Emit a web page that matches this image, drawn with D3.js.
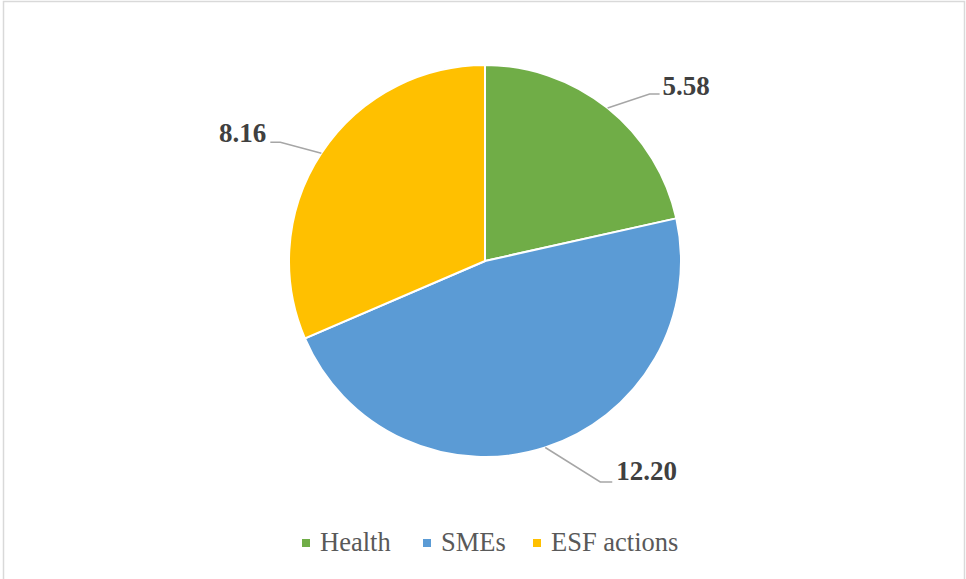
<!DOCTYPE html>
<html lang="en">
<head>
<meta charset="UTF-8">
<title>Pie chart</title>
<style>
  body { margin: 0; background: #fff; }
  svg { display: block; }
  text { font-family: "Liberation Serif", "Times New Roman", Times, serif; }
</style>
</head>
<body>
<div id="chart"></div>
<script src="https://d3js.org/d3.v7.min.js"></script>
<script>
// data
var categories = ["Health", "SMEs", "ESF actions"];
var values = [5.58, 12.20, 8.16];
var colors = ["#70AD47", "#5B9BD5", "#FFC000"];

var width = 966, height = 579;
var cx = 485, cy = 261, radius = 196;

// label elbow placement (dx, dy from the arc point to the elbow, then horizontal run)
var labelLayout = [
  { ex: 42, ey: -14, run: 10, anchor: "start", gap: 3, dy: 1 },
  { ex: 55, ey: 34.5, run: 12, anchor: "start", gap: 4, dy: -2 },
  { ex: -41, ey: -11, run: -10, anchor: "end", gap: -4, dy: 0 }
];

var svg = d3.select("#chart").append("svg")
  .attr("width", width)
  .attr("height", height);

svg.append("rect")
  .attr("x", 3.5).attr("y", 1.5)
  .attr("width", 961).attr("height", 590)
  .attr("fill", "#fff")
  .attr("stroke", "#d9d9d9")
  .attr("stroke-width", 1.5);

var pie = d3.pie().sort(null).value(function (d) { return d; });
var arcs = pie(values);
var arc = d3.arc().innerRadius(0).outerRadius(radius);

var g = svg.append("g").attr("transform", "translate(" + cx + "," + cy + ")");

g.selectAll("path.slice")
  .data(arcs)
  .enter().append("path")
  .attr("class", "slice")
  .attr("d", arc)
  .attr("fill", function (d, i) { return colors[i]; })
  .attr("stroke", "#fff")
  .attr("stroke-width", 2);

// leader lines and labels
arcs.forEach(function (d, i) {
  var mid = (d.startAngle + d.endAngle) / 2;
  var px = radius * Math.sin(mid), py = -radius * Math.cos(mid);
  var L = labelLayout[i];
  var ex = px + L.ex, ey = py + L.ey;
  var tx = ex + L.run;
  g.append("polyline")
    .attr("points", [[px, py], [ex, ey], [tx, ey]].map(function (p) { return p.join(","); }).join(" "))
    .attr("fill", "none")
    .attr("stroke", "#a6a6a6")
    .attr("stroke-width", 1.5);
  g.append("text")
    .attr("x", tx + L.gap)
    .attr("y", ey + L.dy)
    .attr("text-anchor", L.anchor)
    .style("font-weight", "bold")
    .style("font-size", "27px")
    .style("fill", "#404040")
    .text(d3.format(".2f")(values[i]));
});

// legend
var legendX = [302, 423, 533];
var legend = svg.append("g");
categories.forEach(function (c, i) {
  legend.append("rect")
    .attr("x", legendX[i]).attr("y", 539)
    .attr("width", 8).attr("height", 8)
    .attr("fill", colors[i]);
  legend.append("text")
    .attr("x", legendX[i] + 18).attr("y", 551)
    .style("font-size", "26.5px")
    .style("fill", "#595959")
    .text(c);
});
</script>
</body>
</html>
